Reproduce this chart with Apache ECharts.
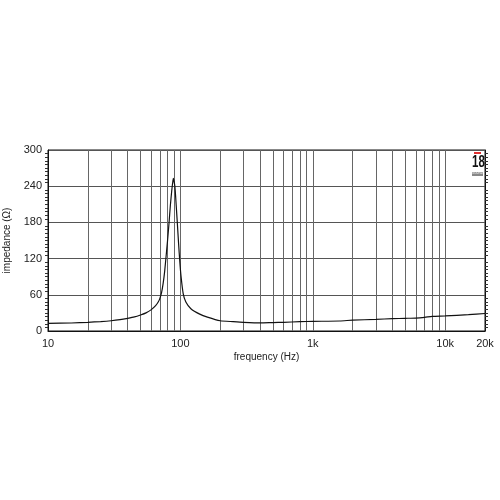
<!DOCTYPE html>
<html>
<head>
<meta charset="utf-8">
<script src="https://cdn.jsdelivr.net/npm/echarts@6/dist/echarts.min.js"></script>
<style>
  html, body { margin: 0; padding: 0; background: #fff; }
  #chart { width: 500px; height: 500px; }
</style>
</head>
<body>
<div id="chart"></div>
<script>
// impedance curve
const freqs = [10, 15, 20, 25, 30, 35, 40, 45, 50, 55, 60, 65, 68, 70, 72, 74, 76, 78, 80, 82, 84, 86, 87, 88, 88.5, 89, 90, 91, 92, 93, 95, 97, 99, 101, 105, 110, 120, 140, 160, 200, 250, 300, 400, 500, 600, 800, 1000, 1600, 2000, 3000, 4000, 5000, 6000, 7000, 8000, 10000, 15000, 20000]
const impedance = [12.5, 13.3, 14.4, 15.6, 17, 18.8, 21, 23.3, 26.5, 30, 35, 42, 48, 54, 63, 78, 98, 124, 150, 178, 208, 232, 242, 250, 253, 251, 246, 238, 224, 208, 176, 144, 115, 92, 62, 48, 37, 28, 23, 17, 15.5, 14.4, 13.4, 14, 14.4, 15.5, 16, 16.6, 18, 19.3, 20.4, 21, 21.5, 22.7, 24.3, 25, 27, 29]
// minor vertical grid lines (decades drawn by the axis itself)
const gridFreqs = [20, 30, 40, 50, 60, 70, 80, 90, 200, 300, 400, 500, 600, 700, 800, 900, 2000, 3000, 4000, 5000, 6000, 7000, 8000, 9000]
const yTicks = [0, 60, 120, 180, 240, 300]

const font = 'Liberation Sans, Arial, sans-serif'
const chart = echarts.init(document.getElementById('chart'))

const options = {
  backgroundColor: '#fff',
  animation: false,
  grid: {
    left: 48,
    right: 15,
    top: 150,
    bottom: 169,
    outerBoundsMode: 'none',
    containLabel: false,
    show: true,
    borderColor: '#111',
    borderWidth: 1
  },
  xAxis: {
    type: 'log',
    logBase: 10,
    min: 10,
    max: 20000,
    name: 'frequency (Hz)',
    nameLocation: 'middle',
    nameGap: 21,
    nameTextStyle: { color: '#222', fontSize: 10, fontFamily: font },
    axisLine: { show: true, lineStyle: { color: '#111', width: 1 } },
    axisTick: { show: false },
    axisLabel: {
      color: '#222',
      fontSize: 11,
      fontFamily: font,
      margin: 7,
      formatter: function (v) {
        v = Math.round(v)
        return v >= 1000 ? v / 1000 + 'k' : String(v)
      }
    },
    splitLine: { show: true, lineStyle: { color: '#666', width: 1 } }
  },
  yAxis: [
    {
      type: 'value',
      min: yTicks[0],
      max: yTicks[yTicks.length - 1],
      interval: 60,
      name: 'impedance (Ω)',
      nameLocation: 'middle',
      nameGap: 27,
      nameTextStyle: { color: '#222', fontSize: 10, fontFamily: font },
      axisLine: { show: true, lineStyle: { color: '#111' } },
      axisTick: { show: false },
      minorTick: { show: true, splitNumber: 10, length: 3, lineStyle: { color: '#333' } },
      axisLabel: { color: '#222', fontSize: 11, fontFamily: font, margin: 6 },
      splitLine: { show: true, lineStyle: { color: '#555', width: 1 } }
    },
    {
      type: 'value',
      position: 'right',
      min: yTicks[0],
      max: yTicks[yTicks.length - 1],
      interval: 60,
      axisLine: { show: true, lineStyle: { color: '#111' } },
      axisTick: { show: false },
      minorTick: { show: true, splitNumber: 10, length: 3, lineStyle: { color: '#333' } },
      axisLabel: { show: false },
      splitLine: { show: false }
    }
  ],
  series: [
    {
      type: 'line',
      data: freqs.map((f, i) => [f, impedance[i]]),
      showSymbol: false,
      smooth: 0.2,
      lineStyle: { color: '#111', width: 1.2 },
      z: 5,
      markLine: {
        silent: true,
        symbol: ['none', 'none'],
        label: { show: false },
        lineStyle: { color: '#666', width: 1, type: 'solid' },
        data: gridFreqs.map(f => ({ xAxis: f }))
      }
    }
  ],
  // 18 Sound logo in the top right corner
  graphic: [
    { type: 'rect', left: 474, top: 152, shape: { width: 7, height: 2 }, style: { fill: '#e03030' } },
    { type: 'text', x: 472, y: 155, scaleX: 0.72, style: { text: '18', fill: '#111', font: 'bold 16px Liberation Sans, Arial, sans-serif' } },
    { type: 'rect', left: 472, top: 172, shape: { width: 11, height: 4 }, style: { fill: '#888' } },
    { type: 'text', left: 472, top: 172, style: { text: 'SOUND', fill: '#fff', font: '3px Liberation Sans, sans-serif' } }
  ]
}

chart.setOption(options)

window.addEventListener('resize', () => {
  chart.resize()
})
</script>
</body>
</html>
